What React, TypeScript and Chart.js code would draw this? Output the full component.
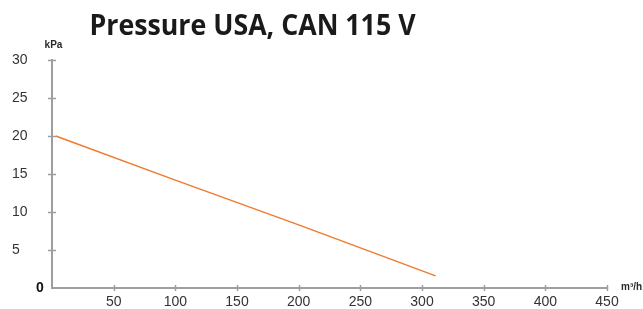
import React, { useEffect, useRef } from "react";
import { Chart, registerables } from "chart.js";

Chart.register(...registerables);

const flowValues = [3, 100, 200, 311];
const pressureValues = [20, 14.2, 8.3, 1.6];
const xTickStep = 50;
const yTickStep = 5;
const titleText = "Pressure USA, CAN 115 V";
const yUnit = "kPa";
const xUnit = "m³/h";

const AXIS = "#9c9ea1";
const LINE = "#f07a2c";
const TEXT = "#2a2a2a";

const overlay = {
  id: "overlay",
  afterDraw(chart: any) {
    const ctx = chart.ctx;
    const xs = chart.scales.x;
    const ys = chart.scales.y;
    const area = chart.chartArea;
    ctx.save();
    ctx.strokeStyle = AXIS;
    ctx.lineWidth = 1.5;
    ys.ticks.forEach((t: any) => {
      if (t.value === 0) return;
      const y = Math.round(ys.getPixelForValue(t.value)) + 0.5;
      ctx.beginPath();
      ctx.moveTo(area.left - 4, y);
      ctx.lineTo(area.left + 4, y);
      ctx.stroke();
    });
    xs.ticks.forEach((t: any) => {
      if (t.value === 0) return;
      const x = Math.round(xs.getPixelForValue(t.value)) + 0.5;
      ctx.beginPath();
      ctx.moveTo(x, area.bottom - 3);
      ctx.lineTo(x, area.bottom + 3);
      ctx.stroke();
    });
    // origin label
    ctx.fillStyle = "#111";
    ctx.font = "bold 14px 'Liberation Sans', Arial, sans-serif";
    ctx.textAlign = "center";
    ctx.textBaseline = "middle";
    ctx.fillText("0", area.left - 12, area.bottom);
    // unit labels
    ctx.font = "bold 10px 'Liberation Sans', Arial, sans-serif";
    ctx.fillStyle = TEXT;
    ctx.fillText(yUnit, area.left + 1.5, area.top - 15);
    ctx.textAlign = "left";
    ctx.font = "bold 10px 'Liberation Sans', Arial, sans-serif";
    ctx.fillText(xUnit, area.right + 14, area.bottom - 1);
    // title
    ctx.font = "bold 29px 'Open Sans', sans-serif";
    const w = ctx.measureText(titleText).width;
    const targetW = 326;
    ctx.translate(89.5, 35);
    ctx.scale(targetW / w, 1);
    ctx.textAlign = "left";
    ctx.textBaseline = "alphabetic";
    ctx.fillStyle = "#1a1a1a";
    ctx.fillText(titleText, 0, 0);
    ctx.restore();
  },
};

export default function App() {
  const ref = useRef<HTMLCanvasElement | null>(null);
  useEffect(() => {
    if (!ref.current) return;
    const chart = new Chart(ref.current, {
      type: "line",
      data: {
        datasets: [
          {
            data: flowValues.map((x, i) => ({ x, y: pressureValues[i] })),
            borderColor: LINE,
            borderWidth: 1.5,
            pointRadius: 0,
            tension: 0,
            fill: false,
          },
        ],
      },
      options: {
        animation: false,
        responsive: false,
        maintainAspectRatio: false,
        layout: { padding: { left: 12, top: 60, right: 36, bottom: 0 } },
        plugins: { legend: { display: false }, tooltip: { enabled: false }, title: { display: false } },
        scales: {
          x: {
            type: "linear",
            min: 0,
            max: 450,
            afterFit: (s: any) => {
              s.height = 21;
            },
            grid: { display: false, drawTicks: false },
            border: { display: true, color: AXIS, width: 2 },
            ticks: {
              stepSize: xTickStep,
              padding: 6,
              color: "#333",
              font: { family: "'Liberation Sans', Arial, sans-serif", size: 14 },
              maxRotation: 0,
              autoSkip: false,
              callback: (v: any) => (v === 0 ? "" : String(v)),
            },
          },
          y: {
            type: "linear",
            min: 0,
            max: 30,
            afterFit: (s: any) => {
              s.width = 40;
            },
            grid: { display: false, drawTicks: false },
            border: { display: true, color: AXIS, width: 2 },
            ticks: {
              stepSize: yTickStep,
              crossAlign: "far",
              color: "#333",
              font: { family: "'Liberation Sans', Arial, sans-serif", size: 14 },
              callback: (v: any) => (v === 0 ? "" : String(v)),
            },
          },
        },
      },
      plugins: [overlay],
    });
    return () => chart.destroy();
  }, []);
  return (
    <div style={{ position: "fixed", left: 0, top: 0, width: 643, height: 309, background: "#fff" }}>
      <canvas ref={ref} width={643} height={309} style={{ display: "block", width: 643, height: 309 }} />
    </div>
  );
}
